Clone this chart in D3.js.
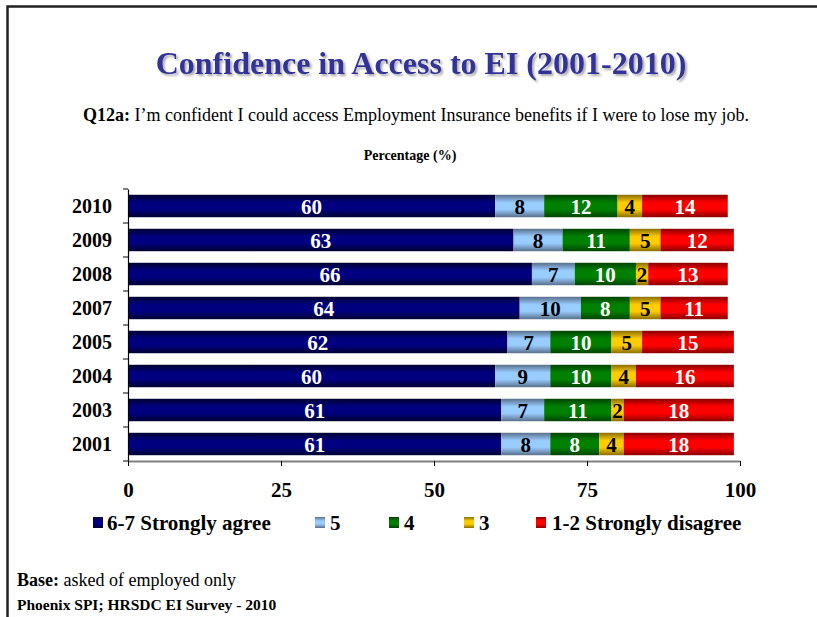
<!DOCTYPE html>
<html>
<head>
<meta charset="utf-8">
<script src="https://cdn.jsdelivr.net/npm/d3@7/dist/d3.min.js"></script>
<style>
  html, body { margin: 0; padding: 0; background: #fff; }
  svg { display: block; }
  text { font-family: "Liberation Serif", "Times New Roman", serif; }
</style>
</head>
<body>
<svg id="chart" width="817" height="617"></svg>
<script>
// Survey years, top to bottom
const years = ["2010", "2009", "2008", "2007", "2005", "2004", "2003", "2001"];

// Response categories (stack order, left to right)
const categories = ["6-7 Strongly agree", "5", "4", "3", "1-2 Strongly disagree"];

// Percentages per category, aligned with `years`
const agree67    = [60, 63, 66, 64, 62, 60, 61, 61];
const score5     = [8, 8, 7, 10, 7, 9, 7, 8];
const score4     = [12, 11, 10, 8, 10, 10, 11, 8];
const score3     = [4, 5, 2, 5, 5, 4, 2, 4];
const disagree12 = [14, 12, 13, 11, 15, 16, 18, 18];

const xTicks = [0, 25, 50, 75, 100];

const seriesValues = [agree67, score5, score4, score3, disagree12];
const colors = [
  { mid: "#000080", edge: "#000030", label: "#ffffff" },
  { mid: "#99ccff", edge: "#586f8a", label: "#000000" },
  { mid: "#008000", edge: "#004400", label: "#ffffff" },
  { mid: "#ffcc00", edge: "#8a6e00", label: "#000000" },
  { mid: "#ff0000", edge: "#8a0000", label: "#ffffff" }
];

const rows = years.map((y, i) => {
  const r = { year: y };
  categories.forEach((c, k) => { r[c] = seriesValues[k][i]; });
  return r;
});

const svg = d3.select("#chart");
const W = 817, H = 617;

const defs = svg.append("defs");
// Gradients giving the bars their cylindrical shading
colors.forEach((c, k) => {
  const g = defs.append("linearGradient")
    .attr("id", "grad" + k).attr("x1", 0).attr("y1", 0).attr("x2", 0).attr("y2", 1);
  g.append("stop").attr("offset", "0%").attr("stop-color", c.edge);
  g.append("stop").attr("offset", "35%").attr("stop-color", c.mid);
  g.append("stop").attr("offset", "65%").attr("stop-color", c.mid);
  g.append("stop").attr("offset", "100%").attr("stop-color", c.edge);
});
// Soft shadow for the title
defs.append("filter").attr("id", "titleShadow")
  .attr("x", "-5%").attr("y", "-20%").attr("width", "110%").attr("height", "150%")
  .append("feDropShadow")
  .attr("dx", 2).attr("dy", 2).attr("stdDeviation", 1)
  .attr("flood-color", "#888").attr("flood-opacity", 0.7);

// Outer frame
svg.append("rect")
  .attr("x", 7.5).attr("y", 6.5).attr("width", W + 20).attr("height", H + 20)
  .attr("fill", "none").attr("stroke", "#222").attr("stroke-width", 2.5);

// Title
svg.append("text")
  .attr("x", 421).attr("y", 74).attr("text-anchor", "middle")
  .attr("font-size", 32).attr("font-weight", "bold").attr("fill", "#333399")
  .attr("filter", "url(#titleShadow)")
  .text("Confidence in Access to EI (2001-2010)");

// Question wording
const q = svg.append("text")
  .attr("x", 416).attr("y", 121).attr("text-anchor", "middle")
  .attr("font-size", 18).attr("fill", "#000");
q.append("tspan").attr("font-weight", "bold").text("Q12a:");
q.append("tspan").text(" I\u2019m confident I could access Employment Insurance benefits if I were to lose my job.");

svg.append("text")
  .attr("x", 410).attr("y", 160).attr("text-anchor", "middle")
  .attr("font-size", 14).attr("font-weight", "bold").text("Percentage (%)");

// Scales
const x = d3.scaleLinear().domain([0, 100]).range([128, 740]);
const y = d3.scaleBand().domain(years).range([189, 461]).paddingInner(0.34).paddingOuter(0.17);

const series = d3.stack().keys(categories)(rows);

const layers = svg.append("g").selectAll("g")
  .data(series).join("g")
  .attr("fill", (d, k) => `url(#grad${k})`);

layers.selectAll("rect")
  .data(d => d)
  .join("rect")
  .attr("x", d => x(d[0]))
  .attr("y", d => y(d.data.year))
  .attr("width", d => x(d[1]) - x(d[0]))
  .attr("height", y.bandwidth());

// Value labels
series.forEach((s, k) => {
  svg.append("g").selectAll("text")
    .data(s).join("text")
    .attr("x", d => (x(d[0]) + x(d[1])) / 2)
    .attr("y", d => y(d.data.year) + y.bandwidth() / 2 + 8)
    .attr("text-anchor", "middle")
    .attr("font-size", 21).attr("font-weight", "bold")
    .attr("fill", colors[k].label)
    .text(d => d[1] - d[0]);
});

// Y axis
const yAxis = d3.axisLeft(y).tickSize(0).tickPadding(16);
const yg = svg.append("g").attr("transform", `translate(${x(0)},0)`).call(yAxis);
yg.select(".domain").attr("stroke", "#000").attr("stroke-width", 1.2);
yg.selectAll("text").attr("font-size", 20).attr("font-weight", "bold")
  .attr("font-family", "Liberation Serif, serif").attr("fill", "#000")
  .attr("dy", "0.36em");
// tick marks between categories
const bounds = years.map(yr => y(yr) - y.step() * y.paddingInner() / 2);
bounds.push(461);
svg.append("g").selectAll("line").data(bounds).join("line")
  .attr("x1", x(0) - 5).attr("x2", x(0)).attr("y1", d => d).attr("y2", d => d)
  .attr("stroke", "#000").attr("stroke-width", 1);

// X axis
const xAxis = d3.axisBottom(x).tickValues(xTicks).tickSize(5).tickPadding(16).tickSizeOuter(0);
const xg = svg.append("g").attr("transform", "translate(0,461)").call(xAxis);
xg.select(".domain").attr("stroke", "#808080").attr("stroke-width", 2);
xg.selectAll(".tick line").attr("stroke", "#000");
xg.selectAll("text").attr("font-size", 21).attr("font-weight", "bold")
  .attr("font-family", "Liberation Serif, serif").attr("fill", "#000");
// axis line continues a little left of zero
svg.append("line").attr("x1", x(0) - 4).attr("x2", x(0)).attr("y1", 461).attr("y2", 461)
  .attr("stroke", "#808080").attr("stroke-width", 2);

// Legend
const legendPos = [
  { sx: 93, tx: 107 }, { sx: 315, tx: 330 }, { sx: 389, tx: 404 },
  { sx: 464, tx: 479 }, { sx: 536, tx: 552 }
];
const lg = svg.append("g");
categories.forEach((c, k) => {
  lg.append("rect").attr("x", legendPos[k].sx).attr("y", 517).attr("width", 10).attr("height", 11)
    .attr("fill", `url(#grad${k})`);
  lg.append("text").attr("x", legendPos[k].tx).attr("y", 530)
    .attr("font-size", 21).attr("font-weight", "bold").text(c);
});

// Footnotes
const base = svg.append("text").attr("x", 17).attr("y", 586).attr("font-size", 18);
base.append("tspan").attr("font-weight", "bold").text("Base:");
base.append("tspan").text(" asked of employed only");
svg.append("text").attr("x", 17).attr("y", 610).attr("font-size", 15.5).attr("font-weight", "bold")
  .text("Phoenix SPI; HRSDC EI Survey - 2010");
</script>
</body>
</html>
